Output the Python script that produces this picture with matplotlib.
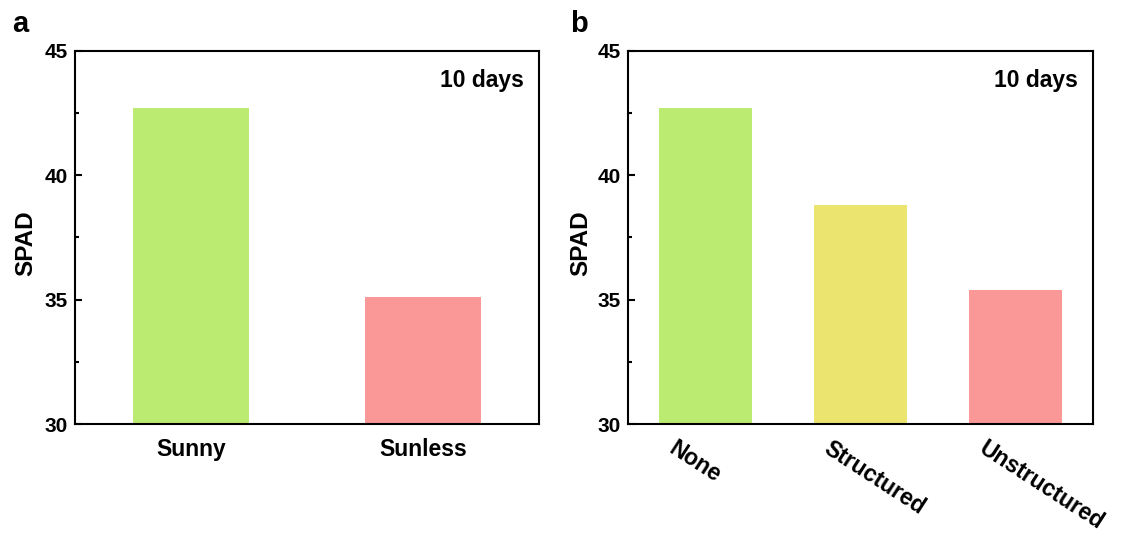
import matplotlib
matplotlib.use('Agg')
import matplotlib.pyplot as plt
import matplotlib.transforms as mtransforms
from matplotlib.ticker import MultipleLocator

plt.rcParams['font.family'] = ['Liberation Sans', 'DejaVu Sans']
plt.rcParams['font.weight'] = 'bold'

# 數據
cats_a = ['Sunny', 'Sunless']
spad_a = [42.7, 35.1]
colors_a = ['#bbeb70', '#fa9797']

cats_b = ['None', 'Structured', 'Unstructured']
spad_b = [42.7, 38.8, 35.4]
colors_b = ['#bbeb70', '#ebe46f', '#fa9797']

fig = plt.figure(figsize=(11.23, 5.36), dpi=100)
ax_a = fig.add_axes([75/1123, 112/536, 464/1123, 373/536])
ax_b = fig.add_axes([628/1123, 112/536, 465/1123, 373/536])


def style_axis(ax, ylab_x):
    ax.set_ylim(30, 45)
    ax.yaxis.set_major_locator(MultipleLocator(5))
    ax.yaxis.set_minor_locator(MultipleLocator(2.5))
    ax.tick_params(axis='y', which='major', direction='in', length=5, width=1.5,
                   labelsize=15, pad=5)
    ax.tick_params(axis='y', which='minor', direction='in', length=3, width=1.5)
    ax.tick_params(axis='x', length=0, labelsize=16.5)
    for s in ax.spines.values():
        s.set_linewidth(1.5)
    ax.set_ylabel('SPAD', fontsize=17.5, fontweight='bold')
    ax.yaxis.set_label_coords(ylab_x, 0.484)
    ax.text(0.968, 0.92, '10 days', transform=ax.transAxes, ha='right', va='center',
            fontsize=16.5, fontweight='bold')


# 圖 a
ax_a.bar(range(len(cats_a)), spad_a, width=0.5, color=colors_a)
ax_a.set_xlim(-0.5, 1.5)
ax_a.set_xticks(range(len(cats_a)))
ax_a.set_xticklabels(cats_a, fontweight='bold')
style_axis(ax_a, -0.081)
ax_a.tick_params(axis='x', pad=10)

# 圖 b
ax_b.bar(range(len(cats_b)), spad_b, width=0.6, color=colors_b)
ax_b.set_xlim(-0.5, 2.5)
ax_b.set_xticks(range(len(cats_b)))
ax_b.set_xticklabels(cats_b, fontweight='bold', rotation=-33, ha='left',
                     rotation_mode='anchor')
style_axis(ax_b, -0.077)
ax_b.tick_params(axis='x', pad=9)
shift = mtransforms.ScaledTranslation(-28/100, 0, fig.dpi_scale_trans)
for lab in ax_b.get_xticklabels():
    lab.set_transform(lab.get_transform() + shift)

fig.text(12/1123, 1 - 32/536, 'a', fontsize=21, fontweight='bold', va='baseline')
fig.text(570/1123, 1 - 32/536, 'b', fontsize=21, fontweight='bold', va='baseline')

plt.savefig('out.png', dpi=100)
